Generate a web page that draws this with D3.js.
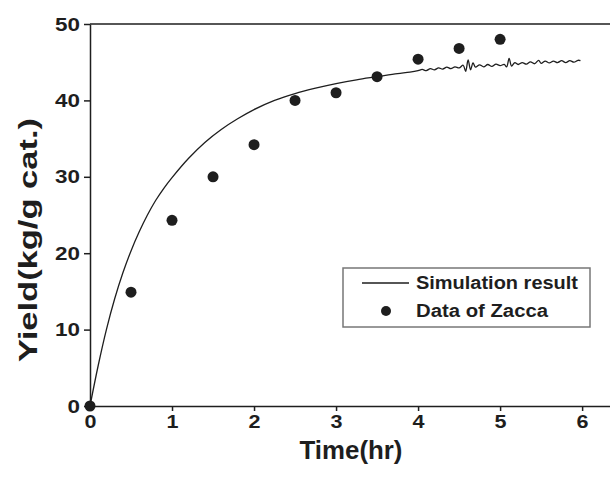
<!DOCTYPE html>
<html>
<head>
<meta charset="utf-8">
<script src="https://cdn.jsdelivr.net/npm/d3@7"></script>
<style>
  body { margin: 0; background: #fff; }
  text { font-family: "Liberation Sans", Arial, sans-serif; font-weight: bold; fill: #1e1e1e; }
</style>
</head>
<body>
<svg id="chart" width="610" height="479"></svg>
<script>
// measured data (Zacca)
var dataTime = [0, 0.5, 1.0, 1.5, 2.0, 2.5, 3.0, 3.5, 4.0, 4.5, 5.0];
var dataYield = [0, 14.9, 24.3, 30.0, 34.2, 40.0, 41.0, 43.1, 45.4, 46.8, 48.0];

// simulation curve
var simTime = [0, 0.1, 0.2, 0.3, 0.4, 0.5, 0.6, 0.7, 0.8, 0.9, 1.0, 1.2, 1.4, 1.6, 1.8, 2.0, 2.25, 2.5, 2.75, 3.0, 3.25, 3.5, 3.75, 3.9,
  4.0, 4.05, 4.1, 4.15, 4.2, 4.25, 4.3, 4.35, 4.4, 4.45, 4.5, 4.55, 4.58, 4.61, 4.64, 4.67, 4.7, 4.75, 4.8, 4.85, 4.9, 4.95,
  5.0, 5.05, 5.08, 5.11, 5.14, 5.18, 5.22, 5.27, 5.32, 5.37, 5.42, 5.47, 5.5, 5.55, 5.6, 5.65, 5.7, 5.75, 5.8, 5.85, 5.9, 5.95, 5.98];
var simYield = [0, 5.3, 10.0, 14.0, 17.4, 20.3, 22.8, 25.0, 26.9, 28.5, 29.9, 32.4, 34.5, 36.2, 37.6, 38.8, 40.0, 40.9, 41.6, 42.2, 42.7, 43.1, 43.5, 43.7,
  43.9, 44.05, 43.9, 44.15, 44.0, 44.25, 44.1, 44.35, 44.15, 44.4, 44.25, 44.6, 43.8, 45.3, 44.0, 44.9, 44.35, 44.65, 44.4, 44.7, 44.45, 44.75,
  44.55, 44.7, 44.4, 45.5, 44.5, 44.95, 44.7, 44.95, 44.75, 45.05, 44.8, 45.25, 44.85, 45.15, 44.9, 45.15, 44.95, 45.2, 44.95, 45.2, 45.0, 45.25, 45.2];

var xTicks = [0, 1, 2, 3, 4, 5, 6];
var yTicks = [0, 10, 20, 30, 40, 50];
var legendLabels = ["Simulation result", "Data of Zacca"];

const svg = d3.select("#chart");
const ink = "#1e1e1e";

const x = d3.scaleLinear().domain([0, 6.34]).range([90, 610]);
const y = d3.scaleLinear().domain([0, 50]).range([406, 24]);

// x axis
const gx = svg.append("g")
  .attr("transform", `translate(0,${y(0)})`)
  .call(d3.axisBottom(x).tickValues(xTicks).tickFormat(d3.format("d"))
    .tickSize(5).tickSizeOuter(0).tickPadding(4));
gx.selectAll("text").attr("font-size", 19).attr("textLength", d => String(d).length * 12)
  .attr("lengthAdjust", "spacingAndGlyphs");

// y axis
const gy = svg.append("g")
  .attr("transform", `translate(${x(0)},0)`)
  .call(d3.axisLeft(y).tickValues(yTicks).tickFormat(d3.format("d"))
    .tickSize(6).tickSizeOuter(0).tickPadding(4));
gy.selectAll("text").attr("font-size", 19).attr("textLength", d => String(d).length * 12.5)
  .attr("lengthAdjust", "spacingAndGlyphs");

svg.selectAll(".domain, .tick line").attr("stroke", ink).attr("stroke-width", 1.5);

// top frame line
svg.append("line")
  .attr("x1", x(0)).attr("x2", x.range()[1])
  .attr("y1", y(50)).attr("y2", y(50))
  .attr("stroke", ink).attr("stroke-width", 1.5);

// axis titles
svg.append("text")
  .attr("x", 351).attr("y", 459)
  .attr("text-anchor", "middle")
  .attr("font-size", 25)
  .attr("textLength", 103).attr("lengthAdjust", "spacingAndGlyphs")
  .text("Time(hr)");

svg.append("text")
  .attr("transform", "translate(37,240) rotate(-90)")
  .attr("text-anchor", "middle")
  .attr("font-size", 25)
  .attr("textLength", 244).attr("lengthAdjust", "spacingAndGlyphs")
  .text("Yield(kg/g cat.)");

// simulation line
const line = d3.line()
  .x((d, i) => x(simTime[i]))
  .y(d => y(d))
  .curve(d3.curveCatmullRom.alpha(0.5));

svg.append("path")
  .datum(simYield)
  .attr("d", line)
  .attr("fill", "none")
  .attr("stroke", ink)
  .attr("stroke-width", 1.3);

// data points
svg.append("g")
  .selectAll("circle")
  .data(dataYield)
  .join("circle")
  .attr("cx", (d, i) => x(dataTime[i]))
  .attr("cy", d => y(d))
  .attr("r", 5.5)
  .attr("fill", ink);

// legend
const lg = svg.append("g");
lg.append("rect")
  .attr("x", 343).attr("y", 268)
  .attr("width", 247).attr("height", 59)
  .attr("fill", "#fff")
  .attr("stroke", "#777").attr("stroke-width", 1.5);
lg.append("line")
  .attr("x1", 362).attr("x2", 409)
  .attr("y1", 283).attr("y2", 283)
  .attr("stroke", ink).attr("stroke-width", 1.3);
lg.append("circle")
  .attr("cx", 386).attr("cy", 311).attr("r", 5)
  .attr("fill", ink);
lg.selectAll("text.lab")
  .data(legendLabels)
  .join("text")
  .attr("class", "lab")
  .attr("x", 416)
  .attr("y", (d, i) => 289 + i * 28)
  .attr("font-size", 18)
  .attr("textLength", (d, i) => i == 0 ? 162 : 132)
  .attr("lengthAdjust", "spacingAndGlyphs")
  .text(d => d);
</script>
</body>
</html>
